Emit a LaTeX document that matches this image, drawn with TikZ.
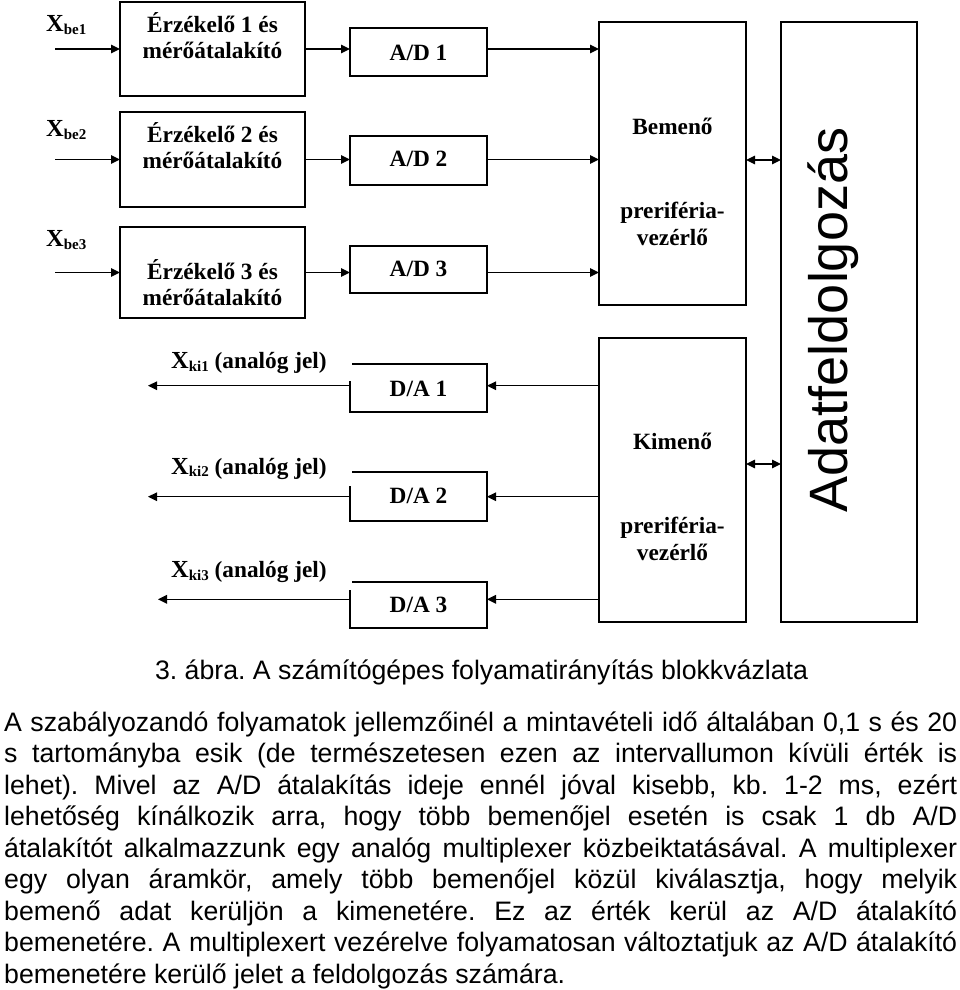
\documentclass[tikz,border=0pt]{standalone}
\usepackage{fontspec}
\setmainfont{Liberation Serif}
\newfontfamily\parafont{Liberation Sans}
\newfontfamily\bigsans{Liberation Sans}
\usetikzlibrary{arrows.meta}
\frenchspacing
\newcommand\sbx[1]{\raisebox{-2.7pt}{\fontsize{15}{15}\selectfont #1}}
\newcommand\bigx{{\fontsize{24.5}{26}\selectfont X}}
\newcommand\jline[1]{\hbox to 953pt{\frenchspacing\spaceskip=0.278em plus 3em minus 0.06em\relax #1}}
\tikzset{
  tri/.tip={Triangle[length=9pt,width=8.5pt]},
  blk/.style={draw, line width=1.5pt, inner sep=0pt, outer sep=0pt},
  arr/.style={line width=1.4pt, -tri},
  dbl/.style={line width=1.4pt, tri-tri},
  lbl/.style={font=\fontsize{23.3}{26}\selectfont\bfseries, inner sep=0pt, anchor=base},
  ptxt/.style={font=\parafont\fontsize{26.7}{31.5}\selectfont, inner sep=0pt, anchor=base west},
}
\begin{document}
\begin{tikzpicture}[x=1pt,y=-1pt]
\useasboundingbox (0,0) rectangle (960,990);
% sensor boxes
\node[blk, minimum width=185pt, minimum height=94pt] (s1) at (212.5,49) {};
\node[blk, minimum width=185pt, minimum height=95pt] (s2) at (212.5,159.5) {};
\node[blk, minimum width=185pt, minimum height=91pt] (s3) at (212.5,272.5) {};
% A/D boxes
\node[blk, minimum width=137pt, minimum height=48pt] (ad1) at (418.5,52) {};
\node[blk, minimum width=137pt, minimum height=49pt] (ad2) at (418.5,160.5) {};
\node[blk, minimum width=137pt, minimum height=47pt] (ad3) at (418.5,269.5) {};
% D/A boxes (outline drawn separately)
\node[inner sep=0pt, outer sep=0pt, minimum width=137pt, minimum height=48pt] (da1) at (418.5,388) {};
\node[inner sep=0pt, outer sep=0pt, minimum width=137pt, minimum height=49pt] (da2) at (418.5,496.5) {};
\node[inner sep=0pt, outer sep=0pt, minimum width=137pt, minimum height=46pt] (da3) at (418.5,605) {};
\draw[line width=1.5pt] ([xshift=2pt]da1.north west) -- (da1.north east) -- (da1.south east) -- (da1.south west) -- ([yshift=-17pt]da1.north west);
\draw[line width=1.5pt] ([xshift=2pt]da2.north west) -- (da2.north east) -- (da2.south east) -- (da2.south west) -- ([yshift=-14pt]da2.north west);
\draw[line width=1.5pt] ([xshift=2pt]da3.north west) -- (da3.north east) -- (da3.south east) -- (da3.south west) -- ([yshift=-8pt]da3.north west);
% controllers and processing
\node[blk, minimum width=147pt, minimum height=283pt] (bem) at (672.5,163.5) {};
\node[blk, minimum width=147pt, minimum height=284pt] (kim) at (672.5,480) {};
\node[blk, minimum width=136pt, minimum height=600pt] (adat) at (849,322) {};
% input coordinates
\coordinate (i1) at (55,49);
\coordinate (i2) at (55,159.5);
\coordinate (i3) at (55,272.5);
\draw[arr] (i1) -- (s1.west);
\draw[arr] (i2) -- (s2.west);
\draw[arr] (i3) -- (s3.west);
\draw[arr] (s1.east) -- (s1.east -| ad1.west);
\draw[arr] (s2.east) -- (s2.east -| ad2.west);
\draw[arr] (s3.east) -- (s3.east -| ad3.west);
\draw[arr] (s1.east -| ad1.east) -- (s1.east -| bem.west);
\draw[arr] (s2.east -| ad2.east) -- (s2.east -| bem.west);
\draw[arr] (s3.east -| ad3.east) -- (s3.east -| bem.west);
% output coordinates
\coordinate (o1) at (148,385.7);
\coordinate (o2) at (148,496.7);
\coordinate (o3) at (158,599.3);
\draw[arr] (o1 -| kim.west) -- (o1 -| da1.east);
\draw[arr] (o2 -| kim.west) -- (o2 -| da2.east);
\draw[arr] (o3 -| kim.west) -- (o3 -| da3.east);
\draw[arr] (o1 -| da1.west) -- (o1);
\draw[arr] (o2 -| da2.west) -- (o2);
\draw[arr] (o3 -| da3.west) -- (o3);
% bidirectional
\coordinate (b1) at (760,160);
\coordinate (b2) at (760,464);
\draw[dbl] (b1 -| bem.east) -- (b1 -| adat.west);
\draw[dbl] (b2 -| kim.east) -- (b2 -| adat.west);
% labels
\node[lbl, anchor=base west] (xb1) at (46,31.7) {\bigx\sbx{be1}};
\node[lbl, anchor=base west] (xb2) at (46,136.7) {\bigx\sbx{be2}};
\node[lbl, anchor=base west] (xb3) at (46,246.7) {\bigx\sbx{be3}};
\node[lbl] (t1a) at (212.5,32.3) {Érzékelő 1 és};
\node[lbl] (t1b) at (212.5,58.3) {mérőátalakító};
\node[lbl] (t2a) at (212.5,142.7) {Érzékelő 2 és};
\node[lbl] (t2b) at (212.5,168.3) {mérőátalakító};
\node[lbl] (t3a) at (212.5,279.3) {Érzékelő 3 és};
\node[lbl] (t3b) at (212.5,305) {mérőátalakító};
\node[lbl] (tad1) at (418.5,60) {A/D 1};
\node[lbl] (tad2) at (418.5,166.7) {A/D 2};
\node[lbl] (tad3) at (418.5,276) {A/D 3};
\node[lbl] (tda1) at (418.5,396) {D/A 1};
\node[lbl] (tda2) at (418.5,503.3) {D/A 2};
\node[lbl] (tda3) at (418.5,612.7) {D/A 3};
\node[lbl, anchor=base west] (xk1) at (171,368.3) {\bigx\sbx{ki1} (analóg jel)};
\node[lbl, anchor=base west] (xk2) at (171,474) {\bigx\sbx{ki2} (analóg jel)};
\node[lbl, anchor=base west] (xk3) at (171,577.3) {\bigx\sbx{ki3} (analóg jel)};
\node[lbl] (tb1) at (672.5,134) {Bemenő};
\node[lbl] (tb2) at (672.5,218.3) {preriféria-};
\node[lbl] (tb3) at (672.5,245) {vezérlő};
\node[lbl] (tk1) at (672.5,449.3) {Kimenő};
\node[lbl] (tk2) at (672.5,533.3) {preriféria-};
\node[lbl] (tk3) at (672.5,560) {vezérlő};
\node[rotate=90, anchor=base, inner sep=0pt, font=\bigsans\fontsize{54}{54}\selectfont] (adtxt) at (847,320) {Adatfeldolgozás};
% caption and paragraph
\node[ptxt, anchor=base] (cap) at (481.5,679.5) {3. ábra. A számítógépes folyamatirányítás blokkvázlata};
\node[ptxt] (p1) at (4,731) {\jline{A szabályozandó folyamatok jellemzőinél a mintavételi idő általában 0,1 s és 20}};
\node[ptxt] (p2) at (4,762.5) {\jline{s tartományba esik (de természetesen ezen az intervallumon kívüli érték is}};
\node[ptxt] (p3) at (4,794) {\jline{lehet). Mivel az A/D átalakítás ideje ennél jóval kisebb, kb. 1-2 ms, ezért}};
\node[ptxt] (p4) at (4,825.5) {\jline{lehetőség kínálkozik arra, hogy több bemenőjel esetén is csak 1 db A/D}};
\node[ptxt] (p5) at (4,857) {\jline{átalakítót alkalmazzunk egy analóg multiplexer közbeiktatásával. A multiplexer}};
\node[ptxt] (p6) at (4,888.5) {\jline{egy olyan áramkör, amely több bemenőjel közül kiválasztja, hogy melyik}};
\node[ptxt] (p7) at (4,920) {\jline{bemenő adat kerüljön a kimenetére. Ez az érték kerül az A/D átalakító}};
\node[ptxt] (p8) at (4,951.5) {\jline{bemenetére. A multiplexert vezérelve folyamatosan változtatjuk az A/D átalakító}};
\node[ptxt] (p9) at (4,983) {bemenetére kerülő jelet a feldolgozás számára.};
\end{tikzpicture}
\end{document}
